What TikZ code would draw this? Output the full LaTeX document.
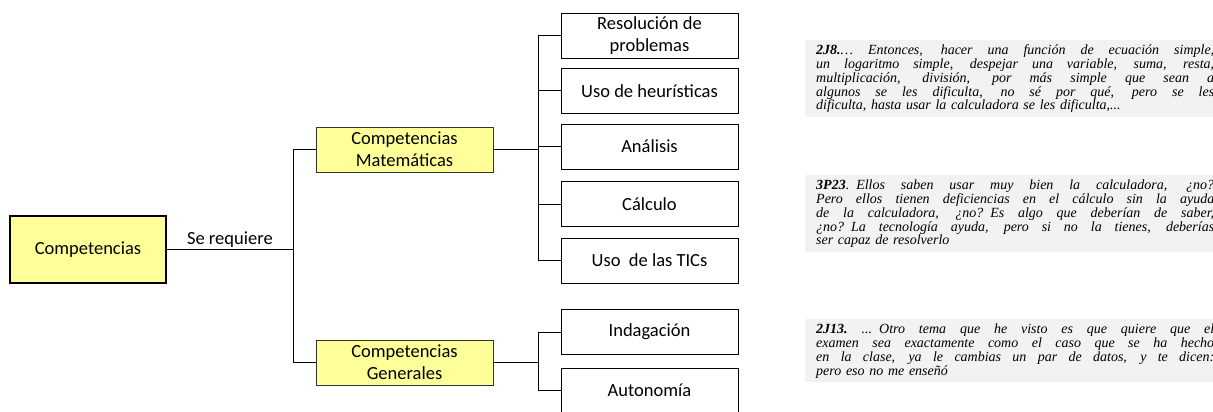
\documentclass[tikz,border=0pt]{standalone}
\usepackage{fontspec}
\setmainfont{Carlito}
\newfontfamily\qfont{Liberation Serif}
\definecolor{boxyellow}{HTML}{FFFF99}
\definecolor{quotegrey}{HTML}{F2F2F2}
\newcommand{\jl}[1]{\leavevmode\hbox to 398pt{\spaceskip=\fontdimen2\font plus 1fil\relax #1}}
\begin{document}
\begin{tikzpicture}[x=1pt,y=-1pt,
  conn/.style={draw=black, line width=0.8pt},
  yelbox/.style={draw=black!80, fill=boxyellow, minimum width=177pt, minimum height=45pt,
    inner sep=0pt, align=center, line width=0.9pt, font=\fontsize{18.5}{22}\selectfont},
  mainbox/.style={draw=black, fill=boxyellow, minimum width=156pt, minimum height=67pt,
    inner sep=0pt, align=center, line width=1.6pt, font=\fontsize{18.5}{22}\selectfont},
  whitebox/.style={draw=black, fill=white, minimum width=177pt, minimum height=45pt,
    inner sep=0pt, align=center, line width=0.8pt, font=\fontsize{18.5}{22}\selectfont},
  quotebox/.style={fill=quotegrey, anchor=north west, minimum width=420pt, inner xsep=7pt,
    inner ysep=4pt, text width=398pt, align=left, text height=10.5pt,
    font=\qfont\itshape\fontsize{14}{13.8}\selectfont},
  lbl/.style={font=\fontsize{18.5}{22}\selectfont, inner sep=1.5pt}
]
\useasboundingbox (0,0) rectangle (1213,412);

\node[mainbox] (comp) at (88,249.5) {Competencias};
\node[yelbox] (mat) at (404.5,149.5) {Competencias\\Matemáticas};
\node[yelbox] (gen) at (404.5,362.5) {Competencias\\Generales};

\node[whitebox] (r1) at (649.5,35.5) {Resolución de\\problemas};
\node[whitebox] (r2) at (649.5,90.8) {Uso de heurísticas};
\node[whitebox] (r3) at (649.5,146.5) {Análisis};
\node[whitebox] (r4) at (649.5,204) {Cálculo};
\node[whitebox] (r5) at (649.5,260.5) {Uso\ \ de las TICs};
\node[whitebox] (g1) at (649.5,332) {Indagación};
\node[whitebox] (g2) at (649.5,390.5) {Autonomía};

\coordinate (j0) at (293,249.5);
\coordinate (jm) at (538,149.5);
\coordinate (jg) at (538,362.5);

\draw[conn] (comp.east) -- node[lbl, above] {Se requiere} (j0);
\draw[conn] (j0) |- (mat.west);
\draw[conn] (j0) |- (gen.west);
\draw[conn] (mat.east) -- (jm);
\foreach \n in {r1,r2,r3,r4,r5} \draw[conn] (jm) |- (\n.west);
\draw[conn] (gen.east) -- (jg);
\foreach \n in {g1,g2} \draw[conn] (jg) |- (\n.west);

\node[quotebox, text depth=58.2pt] (q1) at (805,40) {%
\jl{\textbf{2J8.}… Entonces, hacer una función de ecuación simple,}\\
\jl{un logaritmo simple, despejar una variable, suma, resta,}\\
\jl{multiplicación, división, por más simple que sean a}\\
\jl{algunos se les dificulta, no sé por qué, pero se les}\\
dificulta, hasta usar la calculadora se les dificulta,...};

\node[quotebox, text depth=58.2pt] (q2) at (805,175) {%
\jl{\textbf{3P23}. Ellos saben usar muy bien la calculadora, ¿no?}\\
\jl{Pero ellos tienen deficiencias en el cálculo sin la ayuda}\\
\jl{de la calculadora, ¿no? Es algo que deberían de saber,}\\
\jl{¿no? La tecnología ayuda, pero si no la tienes, deberías}\\
ser capaz de resolverlo};

\node[quotebox, text depth=44.4pt] (q3) at (805,319) {%
\jl{\textbf{2J13.}\quad ... Otro tema que he visto es que quiere que el}\\
\jl{examen sea exactamente como el caso que se ha hecho}\\
\jl{en la clase, ya le cambias un par de datos, y te dicen:}\\
pero eso no me enseñó};
\end{tikzpicture}
\end{document}
